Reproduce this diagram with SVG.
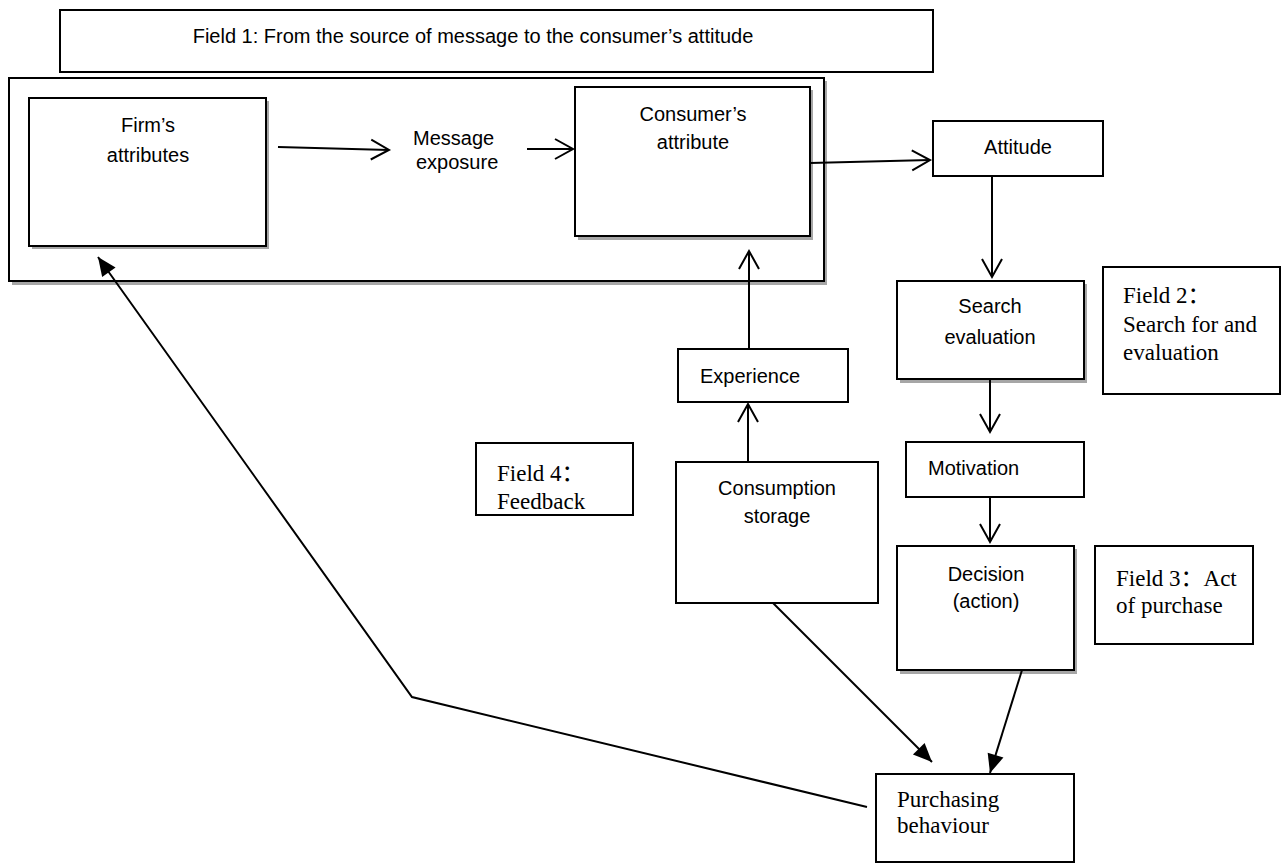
<svg xmlns="http://www.w3.org/2000/svg" width="1282" height="866" viewBox="0 0 1282 866">
<defs>
<style>
.box{fill:#fff;stroke:#000;stroke-width:2}
.shadow{fill:#a6a6a6;stroke:none}
.cal{font-family:"Liberation Sans","Open Sans",sans-serif;font-size:20px;fill:#000}
.tim{font-family:"Liberation Serif","Noto Sans CJK SC",serif;font-size:23px;fill:#000}
.mid{text-anchor:middle}
.conn{fill:none;stroke:#000;stroke-width:2}
.open{marker-end:url(#vhead)}
.solid{marker-end:url(#fhead)}
</style>
<marker id="vhead" markerUnits="userSpaceOnUse" markerWidth="24" markerHeight="24" viewBox="-20 -12 22 24" refX="0" refY="0" orient="auto">
<path d="M-18,-10 L0,0 L-18,10" fill="none" stroke="#000" stroke-width="2"/>
</marker>
<marker id="fhead" markerUnits="userSpaceOnUse" markerWidth="22" markerHeight="20" viewBox="-18 -9 20 18" refX="0" refY="0" orient="auto">
<path d="M-17,-7.5 L0,0 L-17,7.5 Z" fill="#000"/>
</marker>
</defs>
<rect width="1282" height="866" fill="#fff"/>

<g id="field1">
<rect class="box" x="60" y="10" width="873" height="62"/>
<text class="cal mid" x="473" y="43">Field 1: From the source of message to the consumer’s attitude</text>
</g>

<g id="field1-frame">
<rect class="shadow" x="12" y="81" width="815" height="204"/>
<rect class="box" x="9" y="78" width="815" height="203"/>
</g>

<g id="firm">
<rect class="shadow" x="32" y="101" width="237" height="148"/>
<rect class="box" x="29" y="98" width="237" height="148"/>
<text class="cal mid" x="148" y="132">Firm’s</text>
<text class="cal mid" x="148" y="162">attributes</text>
</g>

<g id="message">
<text class="cal" x="413" y="145">Message</text>
<text class="cal" x="416" y="169">exposure</text>
</g>

<g id="consumer">
<rect class="shadow" x="578" y="90" width="235" height="150"/>
<rect class="box" x="575" y="87" width="235" height="149"/>
<text class="cal mid" x="693" y="121">Consumer’s</text>
<text class="cal mid" x="693" y="149">attribute</text>
</g>

<g id="attitude">
<rect class="box" x="933" y="121" width="170" height="55"/>
<text class="cal mid" x="1018" y="154">Attitude</text>
</g>

<g id="search">
<rect class="shadow" x="900" y="284" width="187" height="99"/>
<rect class="box" x="897" y="281" width="187" height="98"/>
<text class="cal mid" x="990" y="313">Search</text>
<text class="cal mid" x="990" y="344">evaluation</text>
</g>

<g id="field2">
<rect class="box" x="1103" y="267" width="177" height="127"/>
<text class="tim" x="1123" y="303">Field 2：</text>
<text class="tim" x="1123" y="332">Search for and</text>
<text class="tim" x="1123" y="360">evaluation</text>
</g>

<g id="experience">
<rect class="box" x="678" y="349" width="170" height="53"/>
<text class="cal" x="700" y="383">Experience</text>
</g>

<g id="motivation">
<rect class="box" x="906" y="442" width="178" height="55"/>
<text class="cal" x="928" y="475">Motivation</text>
</g>

<g id="field4">
<rect class="box" x="476" y="443" width="157" height="72"/>
<text class="tim" x="497" y="481">Field 4：</text>
<text class="tim" x="497" y="509">Feedback</text>
</g>

<g id="consumption">
<rect class="box" x="676" y="462" width="202" height="141"/>
<text class="cal mid" x="777" y="495">Consumption</text>
<text class="cal mid" x="777" y="523">storage</text>
</g>

<g id="decision">
<rect class="shadow" x="900" y="549" width="177" height="125"/>
<rect class="box" x="897" y="546" width="177" height="124"/>
<text class="cal mid" x="986" y="581">Decision</text>
<text class="cal mid" x="986" y="608">(action)</text>
</g>

<g id="field3">
<rect class="box" x="1095" y="546" width="158" height="98"/>
<text class="tim" x="1116" y="586">Field 3：Act</text>
<text class="tim" x="1116" y="613">of purchase</text>
</g>

<g id="purchasing">
<rect class="box" x="876" y="774" width="198" height="88"/>
<text class="tim" x="897" y="807">Purchasing</text>
<text class="tim" x="897" y="833">behaviour</text>
</g>

<g id="connectors">
<line class="conn open" x1="278" y1="147" x2="389" y2="150"/>
<line class="conn open" x1="527" y1="149" x2="573" y2="149"/>
<line class="conn open" x1="810" y1="163" x2="930" y2="160"/>
<line class="conn open" x1="992" y1="176" x2="992" y2="277"/>
<line class="conn open" x1="990" y1="379" x2="990" y2="432"/>
<line class="conn open" x1="990" y1="497" x2="990" y2="542"/>
<line class="conn open" x1="749" y1="349" x2="749" y2="251"/>
<line class="conn open" x1="748" y1="462" x2="748" y2="404"/>
<line class="conn solid" x1="773" y1="603" x2="932" y2="762"/>
<line class="conn solid" x1="1022" y1="670" x2="990" y2="773"/>
<polyline class="conn solid" points="867,807 412,697 98,257"/>
</g>
</svg>
